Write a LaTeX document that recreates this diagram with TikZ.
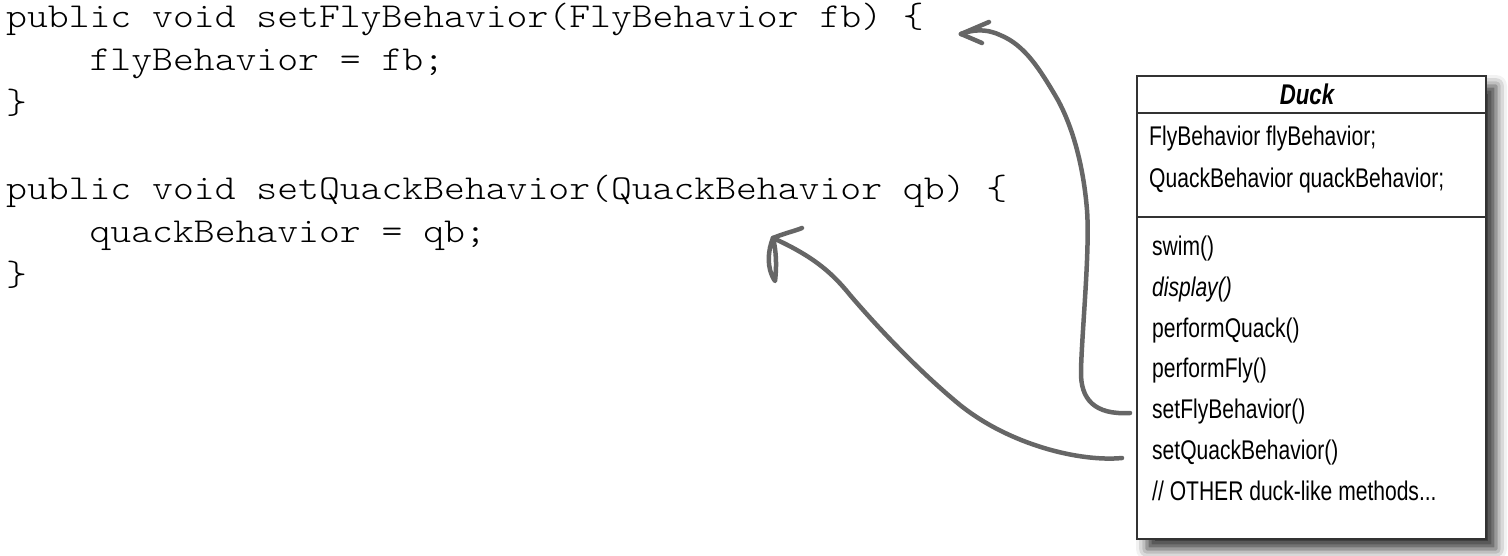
\documentclass[tikz,border=0pt]{standalone}
\usepackage{fontspec}
\usetikzlibrary{shadows.blur}
\newfontfamily\codefont[FakeStretch=1.135]{Latin Modern Mono Light}
\newfontfamily\umlfont[FakeStretch=0.78]{Liberation Sans}
\definecolor{arrowgray}{HTML}{666666}
\definecolor{boxline}{HTML}{333333}
\tikzset{
  code/.style={anchor=base west, inner sep=0pt, font=\codefont\fontsize{35}{43}\selectfont},
  umltext/.style={anchor=base west, inner sep=0pt, font=\umlfont\fontsize{27}{32}\selectfont},
  hand/.style={draw=arrowgray, line width=4.5pt, line cap=round, line join=round},
}
\begin{document}
\begin{tikzpicture}[x=1pt,y=-1pt]
\useasboundingbox (0,0) rectangle (1508,555);
% code
\node[code] (c1) at (6,27) {public void setFlyBehavior(FlyBehavior fb) \{};
\node[code] (c2) at (6,70) {\ \ \ \ flyBehavior = fb;};
\node[code] (c3) at (6,113) {\}};
\node[code] (c4) at (6,199) {public void setQuackBehavior(QuackBehavior qb) \{};
\node[code] (c5) at (6,242) {\ \ \ \ quackBehavior = qb;};
\node[code] (c6) at (6,285) {\}};
% Duck box
\node[draw=boxline, line width=2pt, fill=white, inner sep=0pt, minimum width=349pt, minimum height=463pt, anchor=north west,
  blur shadow={shadow xshift=10pt, shadow yshift=-10pt, shadow blur radius=11pt, shadow opacity=80}] (duck) at (1136,75) {};
\draw[boxline, line width=2pt] (1136,113) coordinate (s1a) -- (1485,113) coordinate (s1b);
\draw[boxline, line width=2pt] (1136,217) coordinate (s2a) -- (1485,217) coordinate (s2b);
\node[anchor=base, inner sep=0pt, font=\umlfont\fontsize{28.5}{32}\selectfont\bfseries\itshape] (title) at (1307,104) {Duck};
\node[umltext] (a1) at (1149,145) {FlyBehavior flyBehavior;};
\node[umltext] (a2) at (1149,187) {QuackBehavior quackBehavior;};
\node[umltext] (m1) at (1152,255) {swim()};
\node[umltext] (m2) at (1152,296) {\itshape display()};
\node[umltext] (m3) at (1152,337) {performQuack()};
\node[umltext] (m4) at (1152,377) {performFly()};
\node[umltext] (m5) at (1152,418) {setFlyBehavior()};
\node[umltext] (m6) at (1152,459) {setQuackBehavior()};
\node[umltext] (m7) at (1152,500) {// OTHER duck-like methods...};
% arrows
\coordinate (t1) at (961,34);
\coordinate (e1) at (1130,413);
\coordinate (t2) at (773,238);
\coordinate (e2) at (1122,458);
\draw[hand] (e1) .. controls (1095,415) and (1080,400) .. (1081,370)
  .. controls (1082,330) and (1090,250) .. (1087,210)
  .. controls (1083,160) and (1070,120) .. (1055,95)
  .. controls (1040,70) and (1025,45) .. (1000,35)
  .. controls (985,28) and (972,30) .. (t1);
\draw[hand] (t1) -- (989,22);
\draw[hand] (t1) -- (982,43);
\draw[hand] (e2) .. controls (1080,462) and (1010,445) .. (960,405)
  .. controls (920,372) and (880,330) .. (850,295)
  .. controls (830,270) and (810,255) .. (t2);
\draw[hand] (t2) .. controls (785,233) and (795,231) .. (802,228);
\draw[hand] (t2) .. controls (768,250) and (766,268) .. (775,281)
  .. controls (777,265) and (776,250) .. (t2);
\end{tikzpicture}
\end{document}
